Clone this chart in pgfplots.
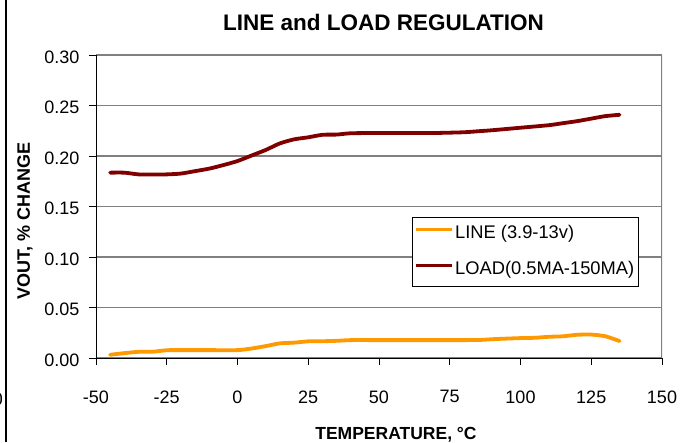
\documentclass[border=0pt]{standalone}
\usepackage{fontspec}
\setmainfont{Liberation Sans}
\usepackage{pgfplots}
\pgfplotsset{compat=1.18}
\definecolor{lineor}{HTML}{FF9900}
\definecolor{loadred}{HTML}{800000}
\begin{document}
\begin{tikzpicture}
\path[use as bounding box] (0,0) rectangle (691pt,442pt);
\begin{axis}[
  at={(96pt,84pt)}, anchor=south west,
  scale only axis, width=566pt, height=303pt,
  xmin=-50, xmax=150, ymin=0, ymax=0.30,
  xtick={-50,-25,0,25,50,75,100,125,150},
  ytick={0,0.05,0.10,0.15,0.20,0.25,0.30},
  axis lines=left, axis line style={black, line width=0.8pt, -},
  tick align=outside, major tick length=7pt,
  tick style={black, line width=0.8pt},
  ymajorgrids, grid style={gray, line width=1.2pt},
  /pgf/number format/assume math mode=true,
  yticklabel style={/pgf/number format/fixed, /pgf/number format/fixed zerofill, /pgf/number format/precision=2, font=\fontsize{18}{20}\selectfont, xshift=-6pt, yshift=-2pt},
  xticklabel style={font=\fontsize{18}{20}\selectfont, yshift=-22pt},
  legend style={at={(0.558,0.465)}, anchor=north west, draw=black, line width=0.7pt, fill=white,
    font=\fontsize{18.3}{20}\selectfont, inner xsep=2pt, inner ysep=2.5pt, row sep=7pt,
    nodes={inner xsep=2pt, inner ysep=5.5pt, text height=13.5pt, text depth=4pt},
    /tikz/every even column/.append style={column sep=0pt}},
  legend cell align=left,
  legend image code/.code={\draw[#1, line width=3pt, line cap=butt] (0pt,4.7pt) -- (36pt,4.7pt);},
]
\addplot[lineor, line width=3.8pt, line cap=round, smooth, tension=0.4] coordinates {
(-45,0.0032) (-40,0.0048) (-35,0.0061) (-30,0.0062) (-25,0.0077) (-20,0.0078) (-10,0.0078) (0,0.0078)
(5,0.0094) (10,0.0118) (15,0.0145) (20,0.0152) (25,0.0165) (30,0.0166) (35,0.0170) (40,0.0177)
(50,0.0177) (60,0.0177) (75,0.0177) (85,0.0178) (90,0.0186) (95,0.0192) (100,0.0197) (105,0.0200)
(110,0.0210) (115,0.0215) (120,0.0230) (125,0.0232) (130,0.0215) (135,0.0168)};
\addlegendentry{LINE (3.9-13v)}
\addplot[loadred, line width=3.8pt, line cap=round, smooth, tension=0.4] coordinates {
(-45,0.1835) (-40,0.1835) (-35,0.1818) (-30,0.1816) (-25,0.1818) (-20,0.1826) (-15,0.1850) (-10,0.1875)
(-5,0.1910) (0,0.1950) (5,0.2005) (10,0.2060) (15,0.2125) (20,0.2165) (25,0.2185) (30,0.2210)
(35,0.2212) (40,0.2225) (50,0.2228) (60,0.2228) (70,0.2228) (80,0.2235) (85,0.2245) (90,0.2255)
(100,0.2280) (110,0.2305) (115,0.2325) (120,0.2345) (125,0.2370) (130,0.2395) (135,0.2408)};
\addlegendentry{LOAD(0.5MA-150MA)}
\draw[gray, line width=1.2pt] (rel axis cs:1,0) -- (rel axis cs:1,1);
\end{axis}
\node[anchor=base, font=\fontsize{22.5}{24}\selectfont\bfseries] at (383.5pt,411.5pt) {LINE and LOAD REGULATION};
\node[rotate=90, anchor=center, font=\fontsize{18}{20}\selectfont\bfseries] at (25pt,221pt) {VOUT, \% CHANGE};
\node[anchor=base, font=\fontsize{17.5}{19}\selectfont\bfseries] at (396pt,2.5pt) {TEMPERATURE, °C};
\draw[black, line width=2pt] (6pt,0) -- (6pt,442pt);
\node[anchor=base east, font=\fontsize{18}{20}\selectfont, inner sep=0pt] at (3pt,36pt) {0};
\end{tikzpicture}
\end{document}
